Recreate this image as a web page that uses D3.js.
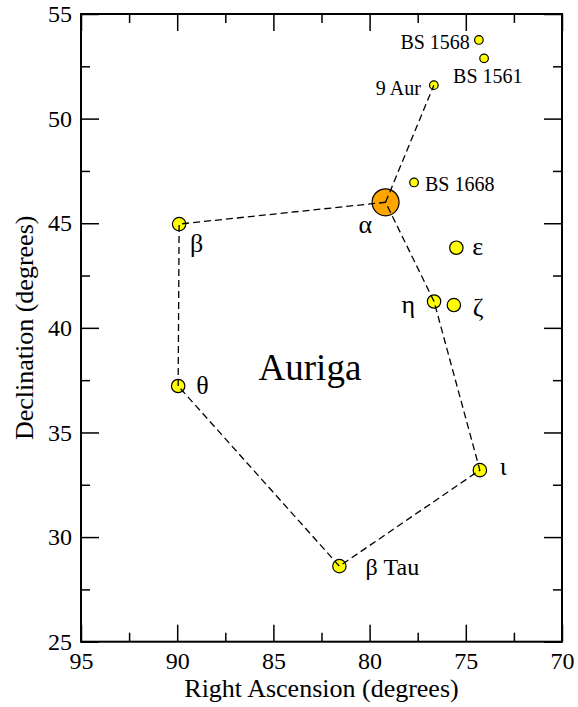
<!DOCTYPE html>
<html>
<head>
<meta charset="utf-8">
<script src="https://cdn.jsdelivr.net/npm/d3@7"></script>
<style>
  body { margin: 0; background: #fff; }
  text { font-family: "Liberation Serif", "DejaVu Serif", serif; fill: #000; }
</style>
</head>
<body>
<div class="chart"></div>
<script>
let FRAME_WIDTH = 578;
let FRAME_HEIGHT = 707;
let MARGINS = {left: 81, right: 16, top: 14, bottom: 65.3};

// star data (RA, Dec in degrees, approx. visual magnitude)
let STAR_NAMES = ["alpha", "beta", "theta", "betaTau", "iota", "eta", "zeta", "epsilon",
                  "9 Aur", "BS 1568", "BS 1561", "BS 1668"];
let STAR_LABELS = ["α", "β", "θ", "β Tau", "ι", "η", "ζ", "ε",
                   "9 Aur", "BS 1568", "BS 1561", "BS 1668"];
let STAR_RA  = [79.17, 89.90, 89.95, 81.57, 74.27, 76.65, 75.62, 75.49,
                76.66, 74.32, 74.05, 77.69];
let STAR_DEC = [46.00, 44.96, 37.22, 28.61, 33.20, 41.26, 41.09, 43.83,
                51.60, 53.76, 52.88, 46.95];
let STAR_MAG = [0.1, 1.9, 2.6, 1.7, 2.7, 3.2, 3.7, 3.0,
                5.0, 5.1, 5.3, 5.0];

// stick figure
let LINE_PATH = ["theta", "beta", "alpha", "eta", "iota", "betaTau", "theta"];
let LINE_BRANCH = ["alpha", "9 Aur"];

let X_MAJOR = [95, 90, 85, 80, 75, 70];
let X_MINOR = [92.5, 87.5, 82.5, 77.5, 72.5];
let Y_MAJOR = [25, 30, 35, 40, 45, 50, 55];
let Y_MINOR = [27.5, 32.5, 37.5, 42.5, 47.5, 52.5];

// label placement relative to the star (pixels)
let LABEL_POS = {
  "alpha":   {dx: -27, dy: 22, anchor: "start", size: 26},
  "beta":    {dx: 11, dy: 19, anchor: "start", size: 26},
  "theta":   {dx: 18, dy: -1, anchor: "start", size: 26},
  "betaTau": {dx: 26, dy: 1, anchor: "start", size: 24},
  "iota":    {dx: 20, dy: -4, anchor: "start", size: 26},
  "eta":     {dx: -19, dy: 3, anchor: "end", size: 26},
  "zeta":    {dx: 19, dy: 2, anchor: "start", size: 26},
  "epsilon": {dx: 16, dy: -1, anchor: "start", size: 26},
  "9 Aur":   {dx: -13, dy: 3, anchor: "end", size: 20},
  "BS 1568": {dx: -9, dy: 2, anchor: "end", size: 20},
  "BS 1561": {dx: -31, dy: 18, anchor: "start", size: 20},
  "BS 1668": {dx: 11, dy: 2, anchor: "start", size: 20}
};

let stars = STAR_NAMES.map((n, i) => ({
  name: n, label: STAR_LABELS[i], ra: STAR_RA[i], dec: STAR_DEC[i], mag: STAR_MAG[i]
}));
let byName = {};
stars.forEach((s) => { byName[s.name] = s; });

let PLOT_WIDTH = FRAME_WIDTH - MARGINS.left - MARGINS.right;
let PLOT_HEIGHT = FRAME_HEIGHT - MARGINS.top - MARGINS.bottom;

let svg = d3.select(".chart")
            .append("svg")
            .attr("width", FRAME_WIDTH)
            .attr("height", FRAME_HEIGHT);

let g = svg.append("g")
           .attr("transform", "translate(" + MARGINS.left + "," + MARGINS.top + ")");

const X_SCALE = d3.scaleLinear().domain([95, 70]).range([0, PLOT_WIDTH]);
const Y_SCALE = d3.scaleLinear().domain([25, 55]).range([PLOT_HEIGHT, 0]);

const R_SCALE = d3.scaleThreshold().domain([1, 4.5]).range([13.5, 6.7, 4.3]);
const FILL = d3.scaleThreshold().domain([1]).range(["#ffa500", "#ffff00"]);

// axes: majors with labels, minors plain, ticks pointing inward
function styleAxis(sel) {
  sel.attr("font-family", null);
  sel.select(".domain").remove();
  sel.selectAll(".tick line").attr("stroke", "#000").attr("stroke-width", 1.5);
  sel.selectAll(".tick text").attr("font-size", "24px").attr("fill", "#000");
}

g.append("g").attr("transform", "translate(0," + PLOT_HEIGHT + ")")
  .call(d3.axisBottom(X_SCALE).tickValues(X_MAJOR).tickSizeInner(-17).tickSizeOuter(0).tickPadding(10))
  .call(styleAxis);
g.append("g").attr("transform", "translate(0," + PLOT_HEIGHT + ")")
  .call(d3.axisBottom(X_SCALE).tickValues(X_MINOR).tickFormat("").tickSizeInner(-9).tickSizeOuter(0))
  .call(styleAxis);
g.append("g")
  .call(d3.axisTop(X_SCALE).tickValues(X_MAJOR).tickFormat("").tickSizeInner(-17).tickSizeOuter(0))
  .call(styleAxis);
g.append("g")
  .call(d3.axisTop(X_SCALE).tickValues(X_MINOR).tickFormat("").tickSizeInner(-9).tickSizeOuter(0))
  .call(styleAxis);

g.append("g")
  .call(d3.axisLeft(Y_SCALE).tickValues(Y_MAJOR).tickSizeInner(-18).tickSizeOuter(0).tickPadding(9))
  .call(styleAxis);
g.append("g")
  .call(d3.axisLeft(Y_SCALE).tickValues(Y_MINOR).tickFormat("").tickSizeInner(-9).tickSizeOuter(0))
  .call(styleAxis);
g.append("g").attr("transform", "translate(" + PLOT_WIDTH + ",0)")
  .call(d3.axisRight(Y_SCALE).tickValues(Y_MAJOR).tickFormat("").tickSizeInner(-18).tickSizeOuter(0))
  .call(styleAxis);
g.append("g").attr("transform", "translate(" + PLOT_WIDTH + ",0)")
  .call(d3.axisRight(Y_SCALE).tickValues(Y_MINOR).tickFormat("").tickSizeInner(-9).tickSizeOuter(0))
  .call(styleAxis);

// frame
g.append("rect")
  .attr("x", 0).attr("y", 0)
  .attr("width", PLOT_WIDTH).attr("height", PLOT_HEIGHT)
  .attr("fill", "none").attr("stroke", "#000").attr("stroke-width", 2);

// stars
g.selectAll("circle.star")
  .data(stars)
  .enter()
  .append("circle")
    .attr("class", "star")
    .attr("cx", (d) => X_SCALE(d.ra))
    .attr("cy", (d) => Y_SCALE(d.dec))
    .attr("r", (d) => R_SCALE(d.mag))
    .attr("fill", (d) => FILL(d.mag))
    .attr("stroke", "#000")
    .attr("stroke-width", 1.2);

// constellation lines (drawn over the stars, like the original)
let line = d3.line().x((n) => X_SCALE(byName[n].ra)).y((n) => Y_SCALE(byName[n].dec));
[LINE_PATH, LINE_BRANCH].forEach((p) => {
  g.append("path")
    .attr("d", line(p))
    .attr("fill", "none")
    .attr("stroke", "#000")
    .attr("stroke-width", 1.3)
    .attr("stroke-dasharray", "7,4");
});

// labels
g.selectAll("text.lbl")
  .data(stars)
  .enter()
  .append("text")
    .attr("class", "lbl")
    .attr("x", (d) => X_SCALE(d.ra) + LABEL_POS[d.name].dx)
    .attr("y", (d) => Y_SCALE(d.dec) + LABEL_POS[d.name].dy)
    .attr("text-anchor", (d) => LABEL_POS[d.name].anchor)
    .attr("dominant-baseline", "central")
    .attr("font-size", (d) => LABEL_POS[d.name].size + "px")
    .text((d) => d.label);

g.append("text")
  .attr("x", X_SCALE(83.1))
  .attr("y", Y_SCALE(38.1))
  .attr("text-anchor", "middle")
  .attr("dominant-baseline", "central")
  .attr("font-size", "37px")
  .text("Auriga");

// axis titles
svg.append("text")
  .attr("x", MARGINS.left + PLOT_WIDTH / 2)
  .attr("y", 697)
  .attr("text-anchor", "middle")
  .attr("font-size", "26px")
  .text("Right Ascension (degrees)");

svg.append("text")
  .attr("transform", "translate(33," + (MARGINS.top + PLOT_HEIGHT / 2) + ") rotate(-90)")
  .attr("text-anchor", "middle")
  .attr("font-size", "26px")
  .text("Declination (degrees)");
</script>
</body>
</html>
